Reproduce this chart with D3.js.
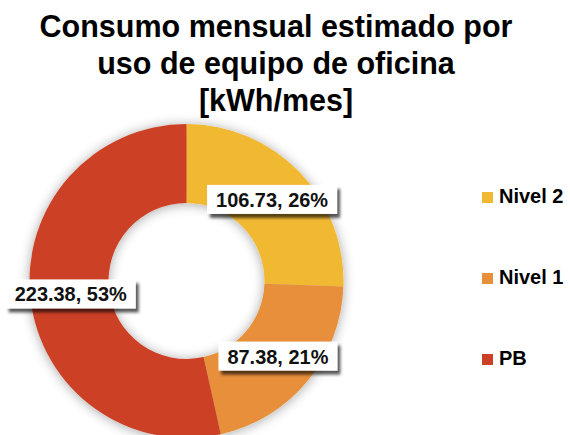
<!DOCTYPE html>
<html>
<head>
<meta charset="utf-8">
<script src="https://cdn.jsdelivr.net/npm/d3@7/dist/d3.min.js"></script>
<style>
  html, body { margin: 0; padding: 0; background: #fff; }
  svg { display: block; }
  text { font-family: "Liberation Sans", Arial, sans-serif; font-weight: bold; }
</style>
</head>
<body>
<svg id="chart" width="570" height="435"></svg>
<script>
const titleLines = ["Consumo mensual estimado por", "uso de equipo de oficina", "[kWh/mes]"];
const categories = ["Nivel 2", "Nivel 1", "PB"];
const values = [106.73, 87.38, 223.38];
const percentLabels = ["26%", "21%", "53%"];
const colors = ["#F1B831", "#E78F3B", "#CC4125"];

const svg = d3.select("#chart");

const defs = svg.append("defs");
const f1 = defs.append("filter").attr("id", "donutShadow")
  .attr("x", "-20%").attr("y", "-20%").attr("width", "140%").attr("height", "140%");
f1.append("feDropShadow").attr("dx", 0).attr("dy", 1).attr("stdDeviation", 6)
  .attr("flood-color", "#000").attr("flood-opacity", 0.35);
const f2 = defs.append("filter").attr("id", "boxShadow")
  .attr("x", "-20%").attr("y", "-40%").attr("width", "140%").attr("height", "180%");
f2.append("feDropShadow").attr("dx", 3).attr("dy", 4).attr("stdDeviation", 1.8)
  .attr("flood-color", "#000").attr("flood-opacity", 0.65);

// Title
const title = svg.append("text")
  .attr("text-anchor", "middle")
  .attr("font-size", 30.5)
  .attr("fill", "#000");
titleLines.forEach((t, i) => {
  title.append("tspan").attr("x", 276).attr("y", 37 + i * 37).text(t);
});

// Donut
const cx = 186.5, cy = 281, rOuter = 157, rInner = 78;
const pie = d3.pie().sort(null).value(d => d)(values);
const arc = d3.arc().innerRadius(rInner).outerRadius(rOuter);

const g = svg.append("g").attr("transform", `translate(${cx},${cy})`);
g.append("g").attr("filter", "url(#donutShadow)")
  .selectAll("path").data(pie).join("path")
  .attr("d", arc)
  .attr("fill", (d, i) => colors[i]);

// Labels
const labelG = g.append("g");
pie.forEach((d, i) => {
  const [x, y] = arc.centroid(d);
  const txt = `${values[i].toFixed(2)}, ${percentLabels[i]}`;
  const lg = labelG.append("g").attr("transform", `translate(${x + 1},${y})`);
  const rect = lg.append("rect").attr("fill", "#fff").attr("filter", "url(#boxShadow)");
  const t = lg.append("text")
    .attr("text-anchor", "middle")
    .attr("font-size", 21)
    .attr("y", 7.5)
    .attr("fill", "#111")
    .text(txt);
  const natural = t.node().getComputedTextLength();
  t.attr("textLength", natural * 0.95).attr("lengthAdjust", "spacingAndGlyphs");
  const w = natural * 0.95;
  const padX = 9;
  rect.attr("x", -w / 2 - padX).attr("y", -14.5)
    .attr("width", w + 2 * padX).attr("height", 29);
});

// Legend
const legend = svg.append("g");
categories.forEach((c, i) => {
  const by = 203 + i * 81;
  legend.append("rect").attr("x", 482).attr("y", by - 11)
    .attr("width", 11).attr("height", 11).attr("fill", colors[i]);
  legend.append("text").attr("x", 499).attr("y", by)
    .attr("font-size", 20).attr("fill", "#000").text(c);
});
</script>
</body>
</html>
